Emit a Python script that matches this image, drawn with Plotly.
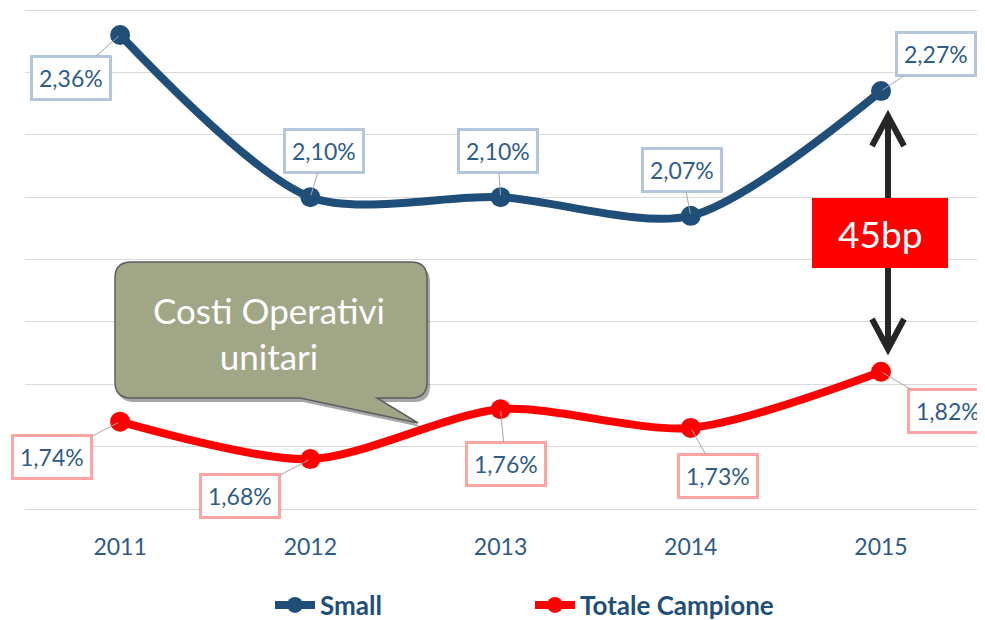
import plotly.graph_objects as go

years = ["2011", "2012", "2013", "2014", "2015"]
small = [2.36, 2.10, 2.10, 2.07, 2.27]
totale = [1.74, 1.68, 1.76, 1.73, 1.82]
small_labels = ["2,36%", "2,10%", "2,10%", "2,07%", "2,27%"]
totale_labels = ["1,74%", "1,68%", "1,76%", "1,73%", "1,82%"]
# label offsets (px) relative to points
small_off = [(-49, 43), (14, -46), (-3, -46), (-9, -46), (55, -37)]
totale_off = [(-68, 35), (-70, 37), (5, 55), (27, 48), (67, 39)]

# page body has an 8px margin: work in page pixels, figure is offset by OFF
OFF = 8
W, H = 985 - OFF, 620 - OFF
L, R = 17, 7
T, B = 0, 108
PW = W - L - R
PH = H - T - B
UNIT = 623.75  # px per 1.0 of y
Y1 = 2.4 + 2 / UNIT
Y0 = Y1 - PH / UNIT

def px(x):
    return (x - OFF - L) / PW

def py(y):
    return (H - B - (y - OFF)) / PH

BLUE = "#1F4E79"
RED = "#FF0000"
TXT = "#2F5C88"

fig = go.Figure()
fig.add_trace(go.Scatter(
    x=years, y=small, name="Small", mode="lines+markers",
    line=dict(color=BLUE, width=8, shape="spline", smoothing=0.8),
    marker=dict(size=20, color=BLUE),
))
fig.add_trace(go.Scatter(
    x=years, y=totale, name="Totale Campione", mode="lines+markers",
    line=dict(color=RED, width=8, shape="spline", smoothing=0.8),
    marker=dict(size=20, color=RED),
))

annotations = []
for series, labels, offs, bc in ((small, small_labels, small_off, "#B4C6DB"),
                                 (totale, totale_labels, totale_off, "#FFA3A3")):
    for i, (v, t, (ox, oy)) in enumerate(zip(series, labels, offs)):
        annotations.append(dict(
            x=i, y=v, xref="x", yref="y", text=t, showarrow=True, ax=ox, ay=oy,
            arrowhead=0, arrowwidth=1, arrowcolor="#A6A6A6", standoff=2,
            font=dict(family="Lato", size=23, color=TXT),
            bgcolor="white", bordercolor=bc, borderwidth=3, borderpad=6,
        ))

# callout bubble
def bubble(dx=0, dy=0):
    x0, x1, y0, y1, r = 115 + dx, 427 + dx, 262 + dy, 398 + dy, 16
    tb0, tb1, tip = (300 + dx), (377 + dx), (418 + dx, 423 + dy)
    def P(x, y):
        return f"{px(x):.5f},{py(y):.5f}"
    return ("M " + P(x0 + r, y0) + " L " + P(x1 - r, y0) + " Q " + P(x1, y0) + " " + P(x1, y0 + r)
            + " L " + P(x1, y1 - r) + " Q " + P(x1, y1) + " " + P(x1 - r, y1)
            + " L " + P(tb1, y1) + " L " + P(*tip) + " L " + P(tb0, y1)
            + " L " + P(x0 + r, y1) + " Q " + P(x0, y1) + " " + P(x0, y1 - r)
            + " L " + P(x0, y0 + r) + " Q " + P(x0, y0) + " " + P(x0 + r, y0) + " Z")

shapes = [
    dict(type="path", xref="paper", yref="paper", path=bubble(3, 4),
         fillcolor="rgba(0,0,0,0.35)", line=dict(width=0), layer="above"),
    dict(type="path", xref="paper", yref="paper", path=bubble(),
         fillcolor="#A0A686", line=dict(color="#5E5E5E", width=1.5), layer="above"),
]
annotations.append(dict(
    x=px(269), y=py(333), xref="paper", yref="paper", showarrow=False,
    xanchor="center", yanchor="middle",
    text="Costi Operativi<br>unitari",
    font=dict(family="Lato", size=35, color="white"), align="center",
))

# double arrow between the two 2015 points
ax_x = 888
top_y, bot_y = 116, 349
def P2(x, y):
    return f"{px(x):.5f},{py(y):.5f}"
for path in ("M " + P2(ax_x, top_y + 3) + " L " + P2(ax_x, bot_y - 3),
             "M " + P2(ax_x - 16, top_y + 30) + " L " + P2(ax_x, top_y) + " L " + P2(ax_x + 16, top_y + 30),
             "M " + P2(ax_x - 16, bot_y - 30) + " L " + P2(ax_x, bot_y) + " L " + P2(ax_x + 16, bot_y - 30)):
    shapes.append(dict(type="path", xref="paper", yref="paper", path=path,
                       line=dict(color="#262626", width=6)))
shapes.append(dict(type="rect", xref="paper", yref="paper",
                   x0=px(812), x1=px(948), y0=py(268), y1=py(198),
                   fillcolor="#FF0000", line=dict(width=0)))
annotations.append(dict(
    x=px(880), y=py(234), xref="paper", yref="paper", showarrow=False,
    xanchor="center", yanchor="middle",
    text="45bp", font=dict(family="Lato", size=37, color="white"),
))

fig.update_layout(
    width=W, height=H,
    margin=dict(l=L, r=R, t=T, b=B, autoexpand=False),
    paper_bgcolor="white", plot_bgcolor="white",
    xaxis=dict(type="category", range=[-0.5, 4.51], showgrid=False, showline=False,
               ticks="", ticklabelstandoff=19,
               tickfont=dict(family="Lato", size=23, color="#2E5A88")),
    yaxis=dict(range=[Y0, Y1], tickvals=[1.6, 1.7, 1.8, 1.9, 2.0, 2.1, 2.2, 2.3, 2.4],
               showticklabels=False, showgrid=True, gridcolor="#D9D9D9", gridwidth=1,
               zeroline=False, showline=False),
    legend=dict(orientation="h", xref="container", yref="container",
                x=(530 - OFF) / W, xanchor="center", y=(620 - 605) / H, yanchor="middle",
                font=dict(family="Lato", size=26, color=BLUE, weight="bold"),
                itemwidth=40, entrywidth=205, bgcolor="rgba(0,0,0,0)"),
    shapes=shapes, annotations=annotations,
)

fig.write_html("out.html")
